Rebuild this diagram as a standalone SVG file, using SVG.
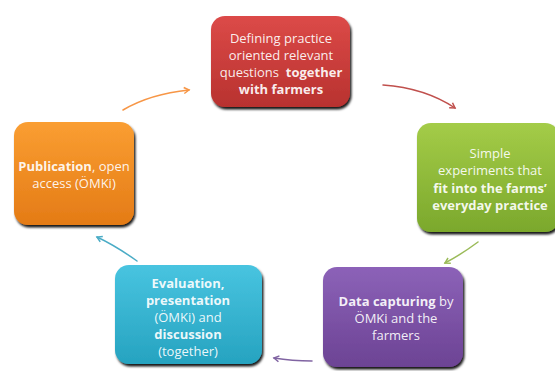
<svg xmlns="http://www.w3.org/2000/svg" width="555" height="371" viewBox="0 0 555 371">
  <style>
    .lbl { font-family: "Open Sans", "Liberation Sans", sans-serif; font-size: 13px; fill: #ffffff; fill-opacity: 0.92; text-anchor: middle; white-space: pre; }
    .b { font-weight: bold; }
    .box { filter: url(#shadow); }
    .conn { fill: none; stroke-width: 1.5; stroke-linecap: round; }
  </style>
  <defs>
    <filter id="shadow" x="-10%" y="-10%" width="125%" height="130%">
      <feDropShadow dx="1.5" dy="2.5" stdDeviation="0.9" flood-color="#000000" flood-opacity="0.9"/>
    </filter>
    <linearGradient id="gRed" x1="0" y1="0" x2="0" y2="1">
      <stop offset="0" stop-color="#dc4a48"/>
      <stop offset="1" stop-color="#b8322f"/>
    </linearGradient>
    <linearGradient id="gGreen" x1="0" y1="0" x2="0" y2="1">
      <stop offset="0" stop-color="#a4cc48"/>
      <stop offset="1" stop-color="#7ba82c"/>
    </linearGradient>
    <linearGradient id="gPurple" x1="0" y1="0" x2="0" y2="1">
      <stop offset="0" stop-color="#8c62b8"/>
      <stop offset="1" stop-color="#6c4394"/>
    </linearGradient>
    <linearGradient id="gCyan" x1="0" y1="0" x2="0" y2="1">
      <stop offset="0" stop-color="#48c4e0"/>
      <stop offset="1" stop-color="#26a3c0"/>
    </linearGradient>
    <linearGradient id="gOrange" x1="0" y1="0" x2="0" y2="1">
      <stop offset="0" stop-color="#fa9e32"/>
      <stop offset="1" stop-color="#e47b16"/>
    </linearGradient>
    <marker id="aOrange" markerWidth="8" markerHeight="8" refX="6" refY="4" orient="auto" markerUnits="userSpaceOnUse">
      <path d="M1,1 L6,4 L1,7" fill="none" stroke="#f79646" stroke-width="1.5"/>
    </marker>
    <marker id="aRed" markerWidth="8" markerHeight="8" refX="6" refY="4" orient="auto" markerUnits="userSpaceOnUse">
      <path d="M1,1 L6,4 L1,7" fill="none" stroke="#c0504d" stroke-width="1.5"/>
    </marker>
    <marker id="aGreen" markerWidth="8" markerHeight="8" refX="6" refY="4" orient="auto" markerUnits="userSpaceOnUse">
      <path d="M1,1 L6,4 L1,7" fill="none" stroke="#9bbb59" stroke-width="1.5"/>
    </marker>
    <marker id="aPurple" markerWidth="8" markerHeight="8" refX="6" refY="4" orient="auto" markerUnits="userSpaceOnUse">
      <path d="M1,1 L6,4 L1,7" fill="none" stroke="#8064a2" stroke-width="1.5"/>
    </marker>
    <marker id="aCyan" markerWidth="8" markerHeight="8" refX="6" refY="4" orient="auto" markerUnits="userSpaceOnUse">
      <path d="M1,1 L6,4 L1,7" fill="none" stroke="#4bacc6" stroke-width="1.5"/>
    </marker>
  </defs>

  <rect width="555" height="371" fill="#ffffff"/>

  <!-- cycle connectors -->
  <g id="connectors">
    <path class="conn" stroke="#f79646" marker-end="url(#aOrange)" d="M123,110 Q150,94 189,90"/>
    <path class="conn" stroke="#c0504d" marker-end="url(#aRed)" d="M383,85 Q425,88 455,108"/>
    <path class="conn" stroke="#9bbb59" marker-end="url(#aGreen)" d="M478,242 Q462,254 445,263"/>
    <path class="conn" stroke="#8064a2" marker-end="url(#aPurple)" d="M312,361 Q292,361 274,358"/>
    <path class="conn" stroke="#4bacc6" marker-end="url(#aCyan)" d="M137,261 Q116,246 97,237"/>
  </g>

  <g id="define">
    <rect class="box" x="211" y="16" width="139" height="91" rx="14" fill="url(#gRed)"/>
    <text class="lbl" x="281" y="43">Defining practice</text>
    <text class="lbl" x="281" y="60">oriented relevant</text>
    <text class="lbl" x="281" y="77">questions  <tspan class="b">together</tspan></text>
    <text class="lbl b" x="281" y="94">with farmers</text>
  </g>

  <g id="experiments">
    <rect class="box" x="417" y="123" width="142" height="109" rx="14" fill="url(#gGreen)"/>
    <text class="lbl" x="490" y="158">Simple</text>
    <text class="lbl" x="490" y="175">experiments that</text>
    <text class="lbl b" x="490" y="193">fit into the farms’</text>
    <text class="lbl b" x="490" y="210">everyday practice</text>
  </g>

  <g id="capturing">
    <rect class="box" x="323" y="267" width="140" height="100" rx="14" fill="url(#gPurple)"/>
    <text class="lbl" x="396" y="306"><tspan class="b">Data capturing</tspan> by</text>
    <text class="lbl" x="396" y="323">ÖMKi and the</text>
    <text class="lbl" x="396" y="340">farmers</text>
  </g>

  <g id="evaluation">
    <rect class="box" x="115" y="265" width="147" height="99" rx="14" fill="url(#gCyan)"/>
    <text class="lbl b" x="188" y="288">Evaluation,</text>
    <text class="lbl b" x="188" y="305">presentation</text>
    <text class="lbl" x="188" y="322">(ÖMKi) and</text>
    <text class="lbl b" x="188" y="339">discussion</text>
    <text class="lbl" x="188" y="356">(together)</text>
  </g>

  <g id="publication">
    <rect class="box" x="14" y="122" width="120" height="103" rx="14" fill="url(#gOrange)"/>
    <text class="lbl" x="74" y="171"><tspan class="b">Publication</tspan>, open</text>
    <text class="lbl" x="74" y="188">access (ÖMKi)</text>
  </g>
</svg>
